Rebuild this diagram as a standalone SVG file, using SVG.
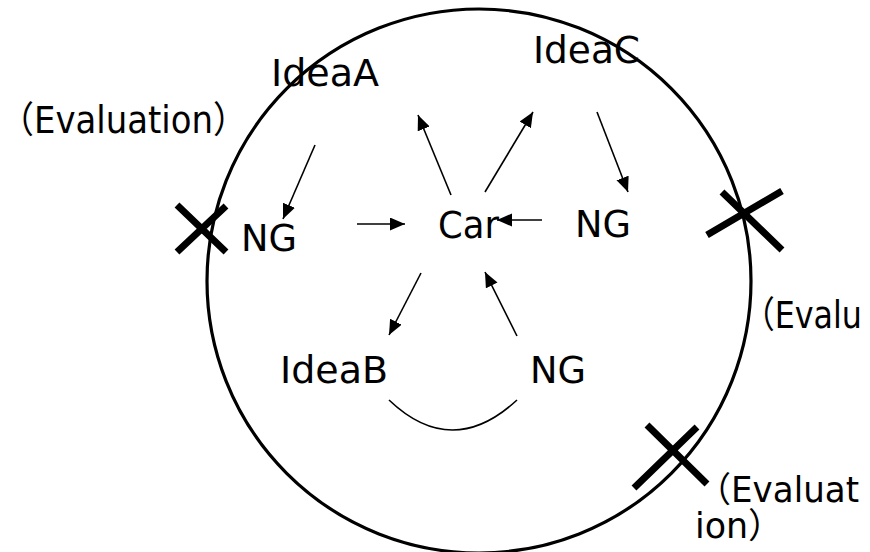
<svg xmlns="http://www.w3.org/2000/svg" width="870" height="552" viewBox="0 0 870 552">
<defs>
<marker id="ah" markerUnits="userSpaceOnUse" markerWidth="16" markerHeight="14" viewBox="0 0 16 14" refX="15" refY="6.5" orient="auto">
<path d="M0,0 L15,6.5 L0,13 z" fill="#000"/>
</marker>
<style>
.t{font-family:"DejaVu Sans","Noto Sans CJK JP",sans-serif;font-size:37px;fill:#000}
.s{font-size:35px}
.c{stroke:#000;stroke-width:1.6;fill:none}
.a{marker-end:url(#ah)}
.x{stroke:#000;stroke-width:7;fill:none}
</style>
</defs>
<rect width="870" height="552" fill="#fff"/>
<g id="boundary">
<circle cx="479" cy="281" r="272" fill="none" stroke="#000" stroke-width="3.2"/>
</g>
<g id="connectors">
<line class="c a" x1="315" y1="145" x2="283" y2="219"/>
<line class="c a" x1="357" y1="224" x2="405" y2="224"/>
<line class="c a" x1="451" y1="195" x2="418" y2="115"/>
<line class="c a" x1="485" y1="192" x2="533" y2="112"/>
<line class="c a" x1="597" y1="112" x2="628" y2="192"/>
<line class="c a" x1="542" y1="220" x2="497" y2="220"/>
<line class="c a" x1="421" y1="273" x2="389" y2="335"/>
<line class="c a" x1="517" y1="336" x2="485" y2="272"/>
<path class="c" d="M389,400 Q452,460 517,400"/>
</g>
<g id="ideaA"><text class="t" x="271" y="86" textLength="108" lengthAdjust="spacingAndGlyphs">IdeaA</text></g>
<g id="ideaC"><text class="t" x="533" y="63" textLength="107" lengthAdjust="spacingAndGlyphs">IdeaC</text></g>
<g id="ngLeft"><text class="t" x="241" y="251" textLength="56" lengthAdjust="spacingAndGlyphs">NG</text></g>
<g id="car"><text class="t" x="438" y="238" textLength="61" lengthAdjust="spacingAndGlyphs">Car</text></g>
<g id="ngRight"><text class="t" x="575" y="237" textLength="56" lengthAdjust="spacingAndGlyphs">NG</text></g>
<g id="ideaB"><text class="t" x="280" y="383" textLength="108" lengthAdjust="spacingAndGlyphs">IdeaB</text></g>
<g id="ngBottom"><text class="t" x="530" y="383" textLength="56" lengthAdjust="spacingAndGlyphs">NG</text></g>
<g id="evalLeft">
<text class="t" x="0" y="133" textLength="247" lengthAdjust="spacingAndGlyphs">（Evaluation）</text>
</g>
<g id="evalLeftMark">
<path class="x" d="M177,205 L226,252 M226,206 L177,252"/>
</g>
<g id="evalRight">
<path class="x" d="M722,192 L782,250 M782,191 L707,235"/>
<text class="t" x="743" y="328" textLength="119" lengthAdjust="spacingAndGlyphs">（Evalu</text>
</g>
<g id="evalBottom">
<path class="x" d="M647,425 L707,484 M697,427 L634,488"/>
<text class="t s" x="697" y="502" textLength="162" lengthAdjust="spacingAndGlyphs">（Evaluat</text>
<text class="t s" x="695" y="538" textLength="88" lengthAdjust="spacingAndGlyphs">ion）</text>
</g>
</svg>
